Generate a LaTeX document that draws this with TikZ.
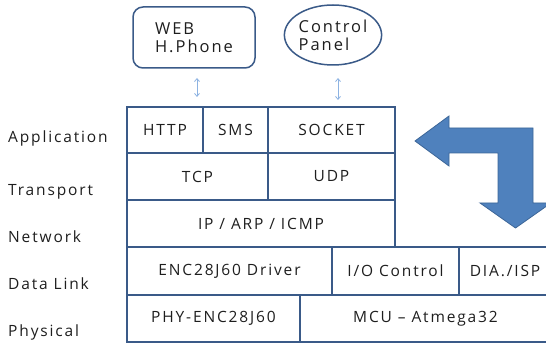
\documentclass[tikz,border=0pt]{standalone}
\usepackage{fontspec}
\setmainfont{Open Sans}[LetterSpace=12]
\usetikzlibrary{shapes.geometric,arrows.meta}
\definecolor{gridc}{HTML}{3A5A88}
\definecolor{txt}{HTML}{1E1E1E}
\definecolor{arrfill}{HTML}{4F81BD}
\definecolor{arrline}{HTML}{3C6698}
\definecolor{thin}{HTML}{8DB3E2}
\tikzset{
  cell/.style={draw=gridc, line width=1.3pt, inner sep=0pt, text=txt, font=\fontsize{15.5}{18}\selectfont},
  lbl/.style={anchor=base west, inner sep=0pt, text=txt, font=\fontsize{15.5}{18}\selectfont},
  topnode/.style={draw=gridc, line width=1.5pt, text=txt, align=left, inner sep=0pt, font=\fontsize{16.5}{18}\selectfont},
  dbl/.style={{Straight Barb[length=3pt,width=5pt]}-{Straight Barb[length=3pt,width=5pt]}, draw=thin, line width=0.8pt},
  bigarrow/.style={fill=arrfill, draw=arrline, line width=0.8pt}
}
\begin{document}
\begin{tikzpicture}[x=1pt,y=-1pt]
\useasboundingbox (0,0) rectangle (546,344);
% top nodes
\node[topnode, rounded corners=10pt, minimum width=122pt, minimum height=61pt] (web) at (194,37.5) {WEB\\H.Phone};
\node[topnode, ellipse, minimum width=96pt, minimum height=60pt] (ctrl) at (333,35) {Control\\Panel};
% grid cells
\node[cell, minimum width=76pt, minimum height=46pt] (http) at (165,130) {HTTP};
\node[cell, minimum width=65pt, minimum height=46pt] (sms) at (235.5,130) {SMS};
\node[cell, minimum width=127pt, minimum height=46pt] (socket) at (331.5,130) {SOCKET};
\node[cell, minimum width=141pt, minimum height=47pt] (tcp) at (197.5,176.5) {TCP};
\node[cell, minimum width=127pt, minimum height=47pt] (udp) at (331.5,176.5) {UDP};
\node[cell, minimum width=268pt, minimum height=47pt] (ip) at (261,223.5) {IP / ARP / ICMP};
\node[cell, minimum width=205pt, minimum height=48pt] (drv) at (229.5,271) {ENC28J60 Driver};
\node[cell, minimum width=127pt, minimum height=48pt] (io) at (395.5,271) {I/O Control};
\node[cell, minimum width=92pt, minimum height=48pt] (dia) at (505,271) {DIA./ISP};
\node[cell, minimum width=173pt, minimum height=47pt] (phy) at (213.5,318.5) {PHY-ENC28J60};
\node[cell, minimum width=251pt, minimum height=47pt] (mcu) at (425.5,318.5) {MCU – Atmega32};
% layer labels
\node[lbl] (lapp) at (8,143) {Application};
\node[lbl] (ltr) at (8,196) {Transport};
\node[lbl] (lnet) at (8,243) {Network};
\node[lbl] (ldl) at (8,290) {Data Link};
\node[lbl] (lph) at (8,337) {Physical};
% small double arrows
\coordinate (w1) at (197,78);
\coordinate (w2) at (197,97);
\coordinate (c1) at (338,78);
\coordinate (c2) at (338,100);
\draw[dbl] (w1) -- (w2);
\draw[dbl] (c1) -- (c2);
% big bent arrow
\draw[bigarrow] (415,141) -- (449,116) -- (449,128) -- (533,128) -- (533,203) -- (551,203)
  -- (515.5,228) -- (480,203) -- (498,203) -- (498,153) -- (449,153) -- (449,166) -- cycle;
\end{tikzpicture}
\end{document}
